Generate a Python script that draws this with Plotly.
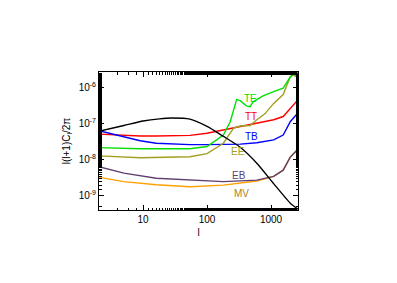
import math
import plotly.graph_objects as go

# lensing potential spectrum (black)
l_phi = [2, 5, 10, 18, 28, 54, 100, 180, 330, 600, 1100, 2000, 2650]
phi = [6.2e-8, 9.0e-8, 1.2e-7, 1.38e-7, 1.45e-7, 1.35e-7, 8.5e-8, 4.5e-8, 2.25e-8, 8.1e-9, 2.2e-9, 6.3e-10, 4.3e-10]

l_tt = [2, 5, 9, 16, 30, 54, 100, 180, 330, 600, 1100, 1550, 2000, 2650]
tt = [5.2e-8, 4.7e-8, 4.6e-8, 4.6e-8, 4.6e-8, 4.8e-8, 5.5e-8, 6.8e-8, 8.7e-8, 1.05e-7, 1.3e-7, 1.6e-7, 2.75e-7, 4.7e-7]

l_tb = [2, 5, 9, 16, 30, 54, 100, 180, 330, 600, 1100, 1550, 2000, 2650]
tb = [6.5e-8, 4.3e-8, 3.4e-8, 2.9e-8, 2.7e-8, 2.65e-8, 2.65e-8, 2.65e-8, 2.75e-8, 3.0e-8, 3.6e-8, 4.9e-8, 1.15e-7, 2.05e-7]

l_te = [2, 9, 54, 100, 180, 230, 290, 330, 370, 420, 470, 530, 600, 750, 1100, 1550, 2000, 2300, 2450, 2650]
te = [2.2e-8, 2.05e-8, 2.05e-8, 2.35e-8, 4.9e-8, 1.15e-7, 4.7e-7, 4.4e-7, 3.7e-7, 3.1e-7, 3.0e-7, 4.2e-7, 4.7e-7, 6.0e-7, 7.9e-7, 9.8e-7, 2.0e-6, 2.6e-6, 2.1e-6, 2.8e-6]

l_ee = [2, 9, 54, 100, 180, 260, 330, 470, 600, 800, 1100, 1550, 2000, 2250, 2650]
ee = [1.3e-8, 1.15e-8, 1.23e-8, 1.5e-8, 2.9e-8, 7.6e-8, 8.7e-8, 9.0e-8, 1.3e-7, 1.9e-7, 3.7e-7, 6.5e-7, 2.05e-6, 2.3e-6, 1.9e-6]

l_eb = [2, 5, 16, 54, 180, 600, 1100, 1550, 2000, 2650]
eb = [6.5e-9, 4.3e-9, 3.1e-9, 2.75e-9, 2.5e-9, 2.75e-9, 3.5e-9, 5.2e-9, 1.2e-8, 2.0e-8]

l_mv = [2, 5, 16, 54, 180, 600, 1100, 1550, 2000, 2650]
mv = [3.3e-9, 2.5e-9, 2.05e-9, 1.8e-9, 2.0e-9, 2.6e-9, 3.5e-9, 5.2e-9, 1.2e-8, 2.0e-8]

series = [
    ("MV", l_mv, mv, "#ffa000"),
    ("EB", l_eb, eb, "#604070"),
    ("TT", l_tt, tt, "#ff0000"),
    ("TB", l_tb, tb, "#0000ff"),
    ("EE", l_ee, ee, "#a0a020"),
    ("TE", l_te, te, "#00e000"),
]

# label anchor (l, value) for each series
labels = {
    "TE": (470, 5.0e-7, "#00e000"),
    "TT": (480, 1.6e-7, "#ff0000"),
    "TB": (500, 4.4e-8, "#0000ff"),
    "EE": (300, 1.7e-8, "#a0a020"),
    "EB": (320, 3.8e-9, "#604070"),
    "MV": (340, 1.2e-9, "#b08020"),
}

ytickvals = [1e-9, 1e-8, 1e-7, 1e-6]
yticktext = ["10<sup>-9</sup>", "10<sup>-8</sup>", "10<sup>-7</sup>", "10<sup>-6</sup>"]
xtickvals = [10, 100, 1000]
xticktext = ["10", "100", "1000"]

fig = go.Figure()
for name, lx, ly, col in series:
    fig.add_trace(go.Scatter(x=lx, y=ly, mode="lines", line=dict(color=col, width=1.4), showlegend=False, name=name))
fig.add_trace(go.Scatter(x=l_phi, y=phi, mode="lines", line=dict(color="black", width=1.4, shape="spline", smoothing=0.6), showlegend=False))

for name, (lx, ly, col) in labels.items():
    fig.add_annotation(x=math.log10(lx), y=math.log10(ly), text=name, showarrow=False,
                       font=dict(color=col, size=10, family="Liberation Sans"))

fig.update_layout(
    width=397, height=283,
    margin=dict(l=99, r=99, t=72, b=73),
    paper_bgcolor="white", plot_bgcolor="white",
    font=dict(family="Liberation Sans", size=10, color="black"),
)
fig.update_xaxes(type="log", range=[0.31, 3.422], tickvals=xtickvals, ticktext=xticktext, automargin=False,
                 ticks="inside", ticklen=5, tickwidth=1, tickcolor="black", mirror="ticks",
                 showline=True, linecolor="black", linewidth=1, showgrid=False, zeroline=False,
                 minor=dict(ticks="inside", ticklen=2.5, tickcolor="black", showgrid=False),
                 title=dict(text="l", standoff=4, font=dict(size=10, color="black")), tickfont=dict(size=10, color="black"))
fig.update_yaxes(type="log", range=[-9.39, -5.56], tickvals=ytickvals, ticktext=yticktext, automargin=False,
                 ticks="inside", ticklen=5, tickwidth=1, tickcolor="black", mirror="ticks",
                 showline=True, linecolor="black", linewidth=1, showgrid=False, zeroline=False,
                 minor=dict(ticks="inside", ticklen=2.5, tickcolor="black", showgrid=False),
                 title=dict(text="l(l+1)C<sub>l</sub>/2π", standoff=6, font=dict(size=10, color="black")), tickfont=dict(size=10, color="black"))

fig.write_html("out.html", config={"displayModeBar": False}, post_script="document.body.style.margin='0';")
